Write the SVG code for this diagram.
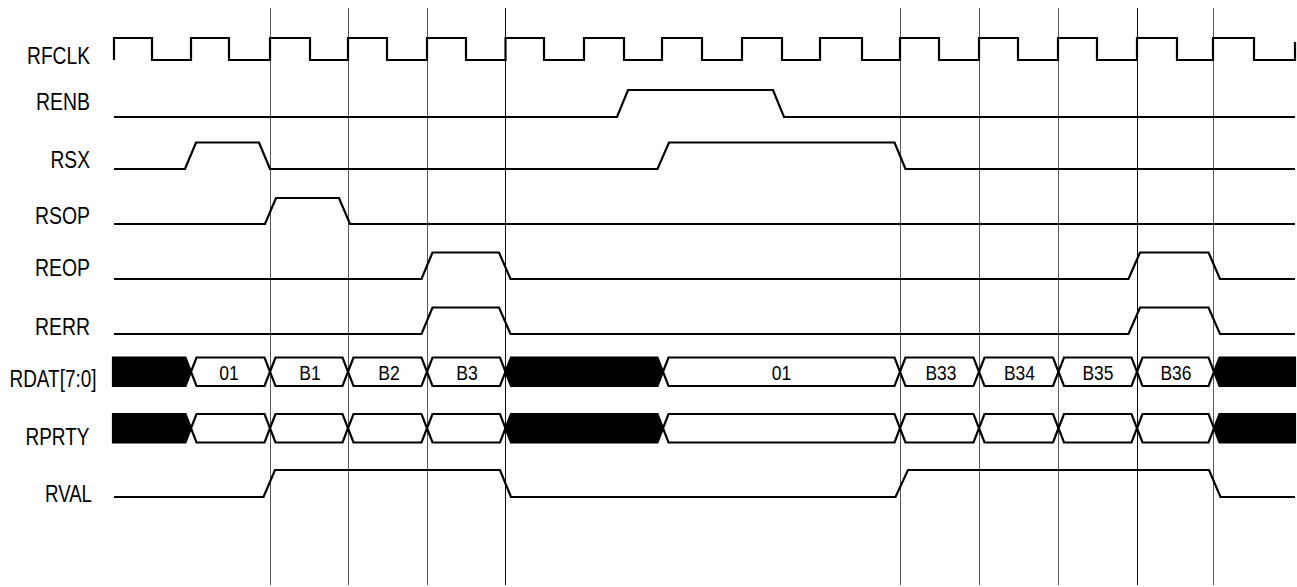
<svg xmlns="http://www.w3.org/2000/svg" width="1297" height="587" viewBox="0 0 1297 587">
<style>
.bg{fill:#fff}
.grid{stroke:#5a5a5a;stroke-width:1;fill:none}
.gridk{stroke:#111;stroke-width:1;fill:none}
.sig{stroke:#000;stroke-width:2.2;fill:none;stroke-linejoin:miter}
.bus{stroke:#000;stroke-width:2.2;fill:#fff;stroke-linejoin:miter}
.busk{stroke:#000;stroke-width:2.2;fill:#000;stroke-linejoin:miter}
.lbl{font-family:"Liberation Sans",Arial,sans-serif;font-size:23px;fill:#000;text-anchor:end}
.val{font-family:"Liberation Sans",Arial,sans-serif;font-size:19.5px;fill:#000;text-anchor:middle}
</style>
<rect class="bg" x="0" y="0" width="1297" height="587"/>
<g id="gridlines">
<line class="grid" x1="270.5" y1="8" x2="270.5" y2="585"/>
<line class="grid" x1="348.5" y1="8" x2="348.5" y2="585"/>
<line class="grid" x1="427.5" y1="8" x2="427.5" y2="585"/>
<line class="gridk" x1="505.5" y1="8" x2="505.5" y2="585"/>
<line class="grid" x1="900.5" y1="8" x2="900.5" y2="585"/>
<line class="grid" x1="979.5" y1="8" x2="979.5" y2="585"/>
<line class="grid" x1="1058.5" y1="8" x2="1058.5" y2="585"/>
<line class="gridk" x1="1137.5" y1="8" x2="1137.5" y2="585"/>
<line class="grid" x1="1213.5" y1="8" x2="1213.5" y2="585"/>
</g>
<g id="RFCLK">
<text class="lbl" x="90" y="64" textLength="63" lengthAdjust="spacingAndGlyphs">RFCLK</text>
<path class="sig" d="M114,60 V38 H152 V60 H191 V38 H229 V60 H270 V38 H310 V60 H348 V38 H387 V60 H427 V38 H466 V60 H505.5 V38 H544 V60 H584 V38 H624 V60 H662 V38 H702 V60 H742 V38 H782 V60 H820 V38 H862 V60 H900 V38 H939 V60 H979 V38 H1018 V60 H1058 V38 H1097 V60 H1137 V38 H1177 V60 H1213 V38 H1254 V60 H1295 V42"/>
</g>
<g id="RENB">
<text class="lbl" x="90" y="110" textLength="54" lengthAdjust="spacingAndGlyphs">RENB</text>
<path class="sig" d="M114,117 H617 L628,90 H773 L784,117 H1295"/>
</g>
<g id="RSX">
<text class="lbl" x="90" y="168" textLength="39.5" lengthAdjust="spacingAndGlyphs">RSX</text>
<path class="sig" d="M114,169 H185 L196,142.5 H259 L270,169 H657.5 L669,142.5 H894.5 L905.5,169 H1295"/>
</g>
<g id="RSOP">
<text class="lbl" x="90" y="224" textLength="55" lengthAdjust="spacingAndGlyphs">RSOP</text>
<path class="sig" d="M114,224 H265 L276,198 H339 L350,224 H1295"/>
</g>
<g id="REOP">
<text class="lbl" x="90" y="276" textLength="55" lengthAdjust="spacingAndGlyphs">REOP</text>
<path class="sig" d="M114,279 H421.5 L432.5,252.5 H499 L510.5,279 H1128.5 L1140,252.5 H1208.5 L1220,279 H1295"/>
</g>
<g id="RERR">
<text class="lbl" x="90" y="334.5" textLength="55" lengthAdjust="spacingAndGlyphs">RERR</text>
<path class="sig" d="M114,334 H421.5 L432.5,307.5 H499 L510.5,334 H1128.5 L1140,307.5 H1208.5 L1220,334 H1295"/>
</g>
<g id="RDAT">
<text class="lbl" x="96.5" y="386.5" textLength="87" lengthAdjust="spacingAndGlyphs">RDAT[7:0]</text>
<polygon class="busk" points="113,357.5 185.5,357.5 191,371.75 185.5,386 113,386"/>
<polygon class="bus" points="191,371.75 196.5,357.5 264.5,357.5 270,371.75 264.5,386 196.5,386"/>
<polygon class="bus" points="270,371.75 275.5,357.5 342.5,357.5 348,371.75 342.5,386 275.5,386"/>
<polygon class="bus" points="348,371.75 353.5,357.5 421.5,357.5 427,371.75 421.5,386 353.5,386"/>
<polygon class="bus" points="427,371.75 432.5,357.5 500,357.5 505.5,371.75 500,386 432.5,386"/>
<polygon class="busk" points="505.5,371.75 511,357.5 657.5,357.5 663,371.75 657.5,386 511,386"/>
<polygon class="bus" points="663,371.75 668.5,357.5 894.5,357.5 900,371.75 894.5,386 668.5,386"/>
<polygon class="bus" points="900,371.75 905.5,357.5 973.5,357.5 979,371.75 973.5,386 905.5,386"/>
<polygon class="bus" points="979,371.75 984.5,357.5 1053,357.5 1058.5,371.75 1053,386 984.5,386"/>
<polygon class="bus" points="1058.5,371.75 1064,357.5 1131.5,357.5 1137,371.75 1131.5,386 1064,386"/>
<polygon class="bus" points="1137,371.75 1142.5,357.5 1208.5,357.5 1214,371.75 1208.5,386 1142.5,386"/>
<polygon class="busk" points="1214,371.75 1219.5,357.5 1295,357.5 1295,386 1219.5,386"/>
<text class="val" x="229" y="380" textLength="19.5" lengthAdjust="spacingAndGlyphs">01</text>
<text class="val" x="310" y="380" textLength="21.5" lengthAdjust="spacingAndGlyphs">B1</text>
<text class="val" x="389" y="380" textLength="21.5" lengthAdjust="spacingAndGlyphs">B2</text>
<text class="val" x="467" y="380" textLength="21.5" lengthAdjust="spacingAndGlyphs">B3</text>
<text class="val" x="781.5" y="380" textLength="19.5" lengthAdjust="spacingAndGlyphs">01</text>
<text class="val" x="941" y="380" textLength="31" lengthAdjust="spacingAndGlyphs">B33</text>
<text class="val" x="1019.5" y="380" textLength="31" lengthAdjust="spacingAndGlyphs">B34</text>
<text class="val" x="1098" y="380" textLength="31" lengthAdjust="spacingAndGlyphs">B35</text>
<text class="val" x="1176" y="380" textLength="31" lengthAdjust="spacingAndGlyphs">B36</text>
</g>
<g id="RPRTY">
<text class="lbl" x="89.5" y="445" textLength="64" lengthAdjust="spacingAndGlyphs">RPRTY</text>
<polygon class="busk" points="113,414 185.5,414 191,428.25 185.5,442.5 113,442.5"/>
<polygon class="bus" points="191,428.25 196.5,414 264.5,414 270,428.25 264.5,442.5 196.5,442.5"/>
<polygon class="bus" points="270,428.25 275.5,414 342.5,414 348,428.25 342.5,442.5 275.5,442.5"/>
<polygon class="bus" points="348,428.25 353.5,414 421.5,414 427,428.25 421.5,442.5 353.5,442.5"/>
<polygon class="bus" points="427,428.25 432.5,414 500,414 505.5,428.25 500,442.5 432.5,442.5"/>
<polygon class="busk" points="505.5,428.25 511,414 657.5,414 663,428.25 657.5,442.5 511,442.5"/>
<polygon class="bus" points="663,428.25 668.5,414 894.5,414 900,428.25 894.5,442.5 668.5,442.5"/>
<polygon class="bus" points="900,428.25 905.5,414 973.5,414 979,428.25 973.5,442.5 905.5,442.5"/>
<polygon class="bus" points="979,428.25 984.5,414 1053,414 1058.5,428.25 1053,442.5 984.5,442.5"/>
<polygon class="bus" points="1058.5,428.25 1064,414 1131.5,414 1137,428.25 1131.5,442.5 1064,442.5"/>
<polygon class="bus" points="1137,428.25 1142.5,414 1208.5,414 1214,428.25 1208.5,442.5 1142.5,442.5"/>
<polygon class="busk" points="1214,428.25 1219.5,414 1295,414 1295,442.5 1219.5,442.5"/>
</g>
<g id="RVAL">
<text class="lbl" x="92" y="501.5" textLength="47" lengthAdjust="spacingAndGlyphs">RVAL</text>
<path class="sig" d="M114,497 H263.5 L275,470 H500 L511,497 H895.5 L908,470 H1209 L1220.5,497 H1295"/>
</g>
</svg>
